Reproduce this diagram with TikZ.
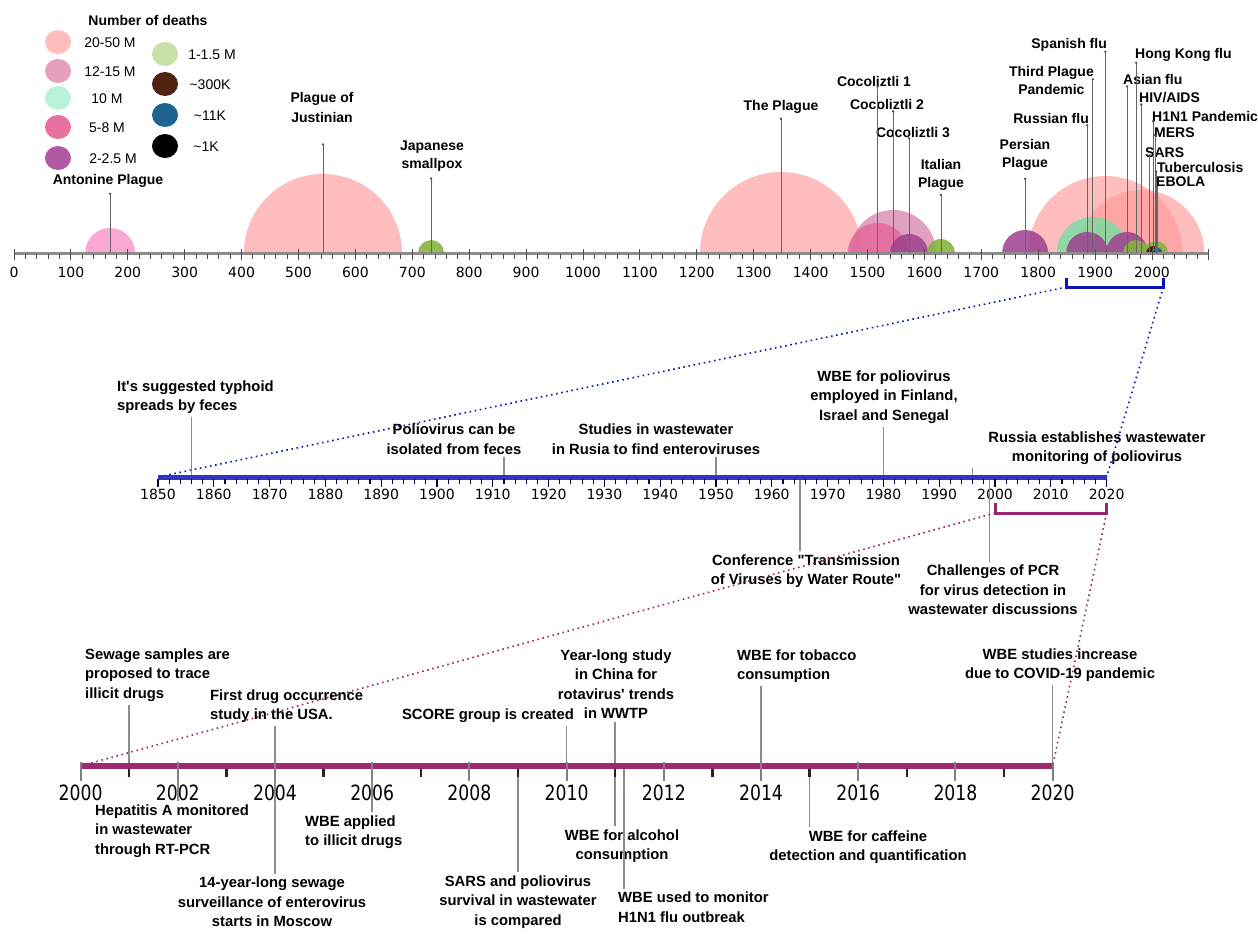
\documentclass[tikz,border=0pt]{standalone}
\usepackage{fontspec}
\setmainfont{Liberation Sans}
\newfontfamily\axisfont{DejaVu Sans}
\newfontfamily\yearfont{DejaVu Sans}[FakeStretch=0.82]
\usetikzlibrary{positioning}

% number of deaths (bubbles)
\definecolor{dthA}{HTML}{FF9999}
\definecolor{dthB}{HTML}{D98AB0}
\definecolor{dthC}{HTML}{6FE0A0}
\definecolor{dthD}{HTML}{E5679A}
\definecolor{dthE}{HTML}{9C4090}
\definecolor{dthF}{HTML}{84B53F}
\definecolor{dthG}{HTML}{4A2410}
\definecolor{dthH}{HTML}{1E6391}
\definecolor{antpink}{HTML}{FBA8D5}
% legend
\definecolor{legA}{HTML}{FFBDBD}
\definecolor{legB}{HTML}{E3A0BF}
\definecolor{legC}{HTML}{B9F2D8}
\definecolor{legD}{HTML}{E8729F}
\definecolor{legE}{HTML}{B05AA4}
\definecolor{legF}{HTML}{C8DFA9}
\definecolor{legG}{HTML}{4E2410}
\definecolor{legH}{HTML}{1F6391}
% axes
\definecolor{axgray}{HTML}{8C8C8C}
\definecolor{zblue}{HTML}{0A14B4}
\definecolor{barblue}{HTML}{3434C2}
\definecolor{zpurple}{HTML}{9B2470}
\definecolor{barpurple}{HTML}{9C2A70}

\tikzset{
  lab/.style    = {font=\fontsize{14}{18}\selectfont\bfseries, inner sep=0pt, align=center},
  lab2/.style   = {lab, font=\fontsize{14.8}{19.5}\selectfont\bfseries},
  legtxt/.style = {font=\fontsize{14}{16}\selectfont, inner sep=0pt},
  pin/.style    = {draw=black!60, line width=0.7pt},
  stem/.style   = {draw=black!45, line width=1.6pt, shorten >=3pt},
  tick/.style   = {draw=black!70, line width=1pt},
  mtick/.style  = {draw=black!80!blue, line width=1.1pt},
  btick/.style  = {draw=black!85, line width=2.4pt},
  gtick/.style  = {draw=black!50, line width=2pt},
  axnum/.style  = {font=\axisfont\fontsize{14}{16}\selectfont, inner sep=0pt},
  yrnum/.style  = {font=\yearfont\fontsize{21}{24}\selectfont, inner sep=0pt},
  zoomA/.style  = {draw=zblue, line width=3pt},
  zoomB/.style  = {draw=zpurple, line width=3pt},
  link/.style   = {line width=1.6pt, dash pattern=on 1.6pt off 3.6pt},
}

\begin{document}
\begin{tikzpicture}[x=1pt,y=-1pt]
  \useasboundingbox (0,0) rectangle (1258,943);

  % legend
  \node[lab] (legtitle) at (148,20) {Number of deaths};
  \foreach \y/\c/\t/\x/\n in {42/legA/20-50 M/110/a, 71/legB/12-15 M/110/b,
                             98/legC/10 M/107/c, 127/legD/5-8 M/107/d, 158/legE/2-2.5 M/113/e}
  {
    \fill[\c] (58,\y) ellipse [x radius=13pt, y radius=12pt];
    \node[legtxt] (leg-\n) at (\x,\y+1) {\t};
  }
  \foreach \y/\c/\t/\x/\n in {54/legF/1-1.5 M/212/f, 84/legG/\textasciitilde300K/210/g,
                             115/legH/\textasciitilde11K/210/h, 146/black/\textasciitilde1K/206/i}
  {
    \fill[\c] (165,\y) ellipse [x radius=13pt, y radius=12pt];
    \node[legtxt] (leg-\n) at (\x,\y+1) {\t};
  }

  % top axis, years 0--2100
  \begin{scope}[shift={(14,253)}, x=0.569pt]
    \foreach \n/\yr in {anton/169, justin/543, japan/733, plague/1348, coco1/1518, coco2/1545,
                        coco3/1573, italy/1629, persia/1777, russia/1886, third/1896, spain/1918,
                        asia/1956, hk/1972, hiv/1981, sars/1996, hone/2002, mers/2005, tb/2007, ebola/2009}
      \coordinate (t-\n) at (\yr,0);
    \begin{scope}
      \clip (-20,-200) rectangle (2120,0);
      \fill[antpink] (t-anton) circle[radius=25pt];
      \foreach \n/\r in {justin/79, plague/81, spain/77, hiv/63}
        \fill[dthA, fill opacity=0.65] (t-\n) circle[radius=\r pt];
      \fill[dthB, fill opacity=0.8] (t-coco2) circle[radius=43pt];
      \fill[dthC, fill opacity=0.75] (t-third) circle[radius=36pt];
      \fill[dthD, fill opacity=0.8] (t-coco1) circle[radius=30pt];
      \foreach \n/\r in {coco3/19, persia/23, russia/21, asia/21}
        \fill[dthE, fill opacity=0.85] (t-\n) circle[radius=\r pt];
      \foreach \n/\r in {japan/13, italy/14, hk/13, tb/12}
        \fill[dthF, fill opacity=0.9] (t-\n) circle[radius=\r pt];
      \fill[dthG] (t-hone) circle[radius=7pt];
      \fill[dthH] (t-ebola) circle[radius=5.5pt];
      \fill[black] (t-sars) circle[radius=2pt];
      \fill[black] (t-mers) circle[radius=2pt];
    \end{scope}
    \draw[line width=3pt, axgray] (0,0) -- (2100,0);
    \foreach \t in {0,20,...,2100} \draw[tick] (\t,1) -- (\t,6);
    \foreach \t in {0,100,...,2100} \draw[tick] (\t,-4) -- (\t,7);
    \foreach \t in {0,100,...,2000} \node[axnum] (tlab-\t) at (\t,19) {\t};
    % zoom bracket
    \draw[zoomA] (1850,25) -- (1850,34) coordinate (zA-l) -- (2020,34) coordinate (zA-r) -- (2020,25);
  \end{scope}

  % top labels
  \node[lab] (anton) at (108,181) {Antonine Plague};
  \node[lab] (justin) at (322,107) {Plague of\\[2pt]Justinian};
  \node[lab] (japan) at (432,156) {Japanese\\smallpox};
  \node[lab] (plague) at (781,107) {The Plague};
  \node[lab] (coco1) at (874,81) {Cocoliztli 1};
  \node[lab] (coco2) at (887,104) {Cocoliztli 2};
  \node[lab] (coco3) at (913,133) {Cocoliztli 3};
  \node[lab] (italy) at (941,175) {Italian\\Plague};
  \node[lab] (persia) at (1025,155) {Persian\\Plague};
  \node[lab, anchor=east] (russia) at (1089,118) {Russian flu};
  \node[lab, anchor=east] (third) at (1094,80) {Third Plague\\Pandemic};
  \node[lab, anchor=east] (spain) at (1107,45) {Spanish flu};
  \node[lab, anchor=west] (hk) at (1135,55) {Hong Kong flu};
  \node[lab, anchor=west] (asia) at (1123,79) {Asian flu};
  \node[lab, anchor=west] (hiv) at (1139,98) {HIV/AIDS};
  \node[lab, anchor=west] (hone) at (1152,116) {H1N1 Pandemic};
  \node[lab, anchor=west] (mers) at (1154,133) {MERS};
  \node[lab, anchor=west] (sars) at (1145,153) {SARS};
  \node[lab, anchor=west] (tb) at (1157,167) {Tuberculosis};
  \node[lab, anchor=west] (ebola) at (1156,182) {EBOLA};
  \foreach \n/\g in {anton/-6, justin/-22, japan/-7, plague/-5, coco1/0, coco2/-2, coco3/0,
                     italy/-4, persia/-8, russia/-2, third/15, spain/0, hk/-1, asia/-2, hiv/-1,
                     hone/0, mers/3, sars/3, tb/1, ebola/1}
  {
    \draw[pin] (t-\n) -- ([yshift=\g pt]\n.south -| t-\n) coordinate (p-\n);
    \fill[black!70] (p-\n) circle[radius=1.3pt];
  }

  % middle axis, 1850--2020
  \begin{scope}[shift={(158,477)}, x=5.58pt]
    \coordinate (m-start) at (0,0);
    \coordinate (m-end) at (170,0);
    \foreach \n/\yr in {typh/6, polio/62, rusia/100, finl/130, russ/146, conf/115, pcr/149}
      \coordinate (m-\n) at (\yr,0);
    \foreach \i in {0,...,17}
      {\pgfmathtruncatemacro\yy{1850+10*\i}
       \node[axnum] (mlab-\i) at (10*\i,17) {\yy};}
    \draw[zoomB] (150,26) -- (150,36) coordinate (zB-l) -- (170,36) coordinate (zB-r) -- (170,26);
  \end{scope}
  \draw[link, zblue] (zA-l) -- (m-start);
  \draw[link, zblue] (zA-r) -- (m-end);

  \node[lab2, align=left, anchor=west] (typh) at (117,397) {It\textquotesingle s suggested typhoid\\spreads by feces};
  \node[lab2] (polio) at (454,439) {Poliovirus can be\\isolated from feces};
  \node[lab2] (rusia) at (656,439) {Studies in wastewater\\in Rusia to find enteroviruses};
  \node[lab2] (finl) at (884,397) {WBE for poliovirus\\employed in Finland,\\Israel and Senegal};
  \node[lab2] (russ) at (1097,448) {Russia establishes wastewater\\monitoring of poliovirus};
  \node[lab2] (conf) at (806,571) {Conference \textquotedbl Transmission\\of Viruses by Water Route\textquotedbl};
  \node[lab2] (pcr) at (993,590) {Challenges of PCR\\for virus detection in\\wastewater discussions};
  \foreach \n in {typh, polio, rusia, finl, russ}
    \draw[stem] (m-\n) -- (m-\n |- \n.south);
  \foreach \n in {conf, pcr}
    \draw[stem] (m-\n) -- (m-\n |- \n.north);

  \begin{scope}[shift={(158,477)}, x=5.58pt]
    \draw[line width=5pt, barblue] (0,0) -- (170,0);
    \foreach \t in {0,2,...,170} \draw[mtick] (\t,2) -- (\t,6.5);
    \foreach \t in {0,10,...,170} \draw[mtick] (\t,2) -- (\t,10);
  \end{scope}

  % bottom axis, 2000--2020
  \begin{scope}[shift={(80.6,766)}, x=48.6pt]
    \coordinate (b-start) at (0,0);
    \coordinate (b-end) at (20,0);
    \foreach \n/\yr in {sew/1, drug/4, score/10, china/11, tobac/14, covid/20,
                        hep/2, moscow/4, illicit/6, sarsp/9, alcohol/11, hflu/11.18, caff/15}
      \coordinate (b-\n) at (\yr,0);
    \foreach \i in {0,...,10}
      {\pgfmathtruncatemacro\yy{2000+2*\i}
       \node[yrnum] (blab-\i) at (2*\i,27) {\yy};}
  \end{scope}
  \draw[link, zpurple] (zB-l) -- (b-start);
  \draw[link, zpurple] (zB-r) -- (b-end);

  \node[lab2, align=left, anchor=west] (sew) at (85,675) {Sewage samples are\\proposed to trace\\illicit drugs};
  \node[lab2, align=left, anchor=west] (drug) at (210,706) {First drug occurrence\\study in the USA.};
  \node[lab2] (score) at (488,716) {SCORE group is created};
  \node[lab2] (china) at (616,684) {Year-long study\\in China for\\rotavirus\textquotesingle\ trends\\in WWTP};
  \node[lab2, align=left, anchor=west] (tobac) at (737,666) {WBE for tobacco\\consumption};
  \node[lab2] (covid) at (1060,665) {WBE studies increase\\due to COVID-19 pandemic};
  \node[lab2, align=left, anchor=west] (hep) at (95,831) {Hepatitis A monitored\\in wastewater\\through RT-PCR};
  \node[lab2] (moscow) at (272,902) {14-year-long sewage\\surveillance of enterovirus\\starts in Moscow};
  \node[lab2, align=left, anchor=west] (illicit) at (305,832) {WBE applied\\to illicit drugs};
  \node[lab2] (sarsp) at (518,902) {SARS and poliovirus\\survival in wastewater\\is compared};
  \node[lab2] (alcohol) at (622,846) {WBE for alcohol\\consumption};
  \node[lab2, align=left, anchor=west] (hflu) at (618,907) {WBE used to monitor\\H1N1 flu outbreak};
  \node[lab2] (caff) at (868,847) {WBE for caffeine\\detection and quantification};
  \foreach \n in {sew, drug, score, china, tobac, covid}
    \draw[stem] (b-\n) -- (b-\n |- \n.south);
  \foreach \n in {hep, moscow, illicit, sarsp, alcohol, hflu, caff}
    \draw[stem] (b-\n) -- (b-\n |- \n.north);

  \begin{scope}[shift={(80.6,766)}, x=48.6pt]
    \draw[line width=6pt, barpurple] (0,0) -- (20,0);
    \foreach \t in {1,3,...,19} \draw[btick] (\t,3) -- (\t,11);
    \foreach \t in {0,2,...,20} \draw[gtick] (\t,-4) -- (\t,15);
  \end{scope}
\end{tikzpicture}
\end{document}
